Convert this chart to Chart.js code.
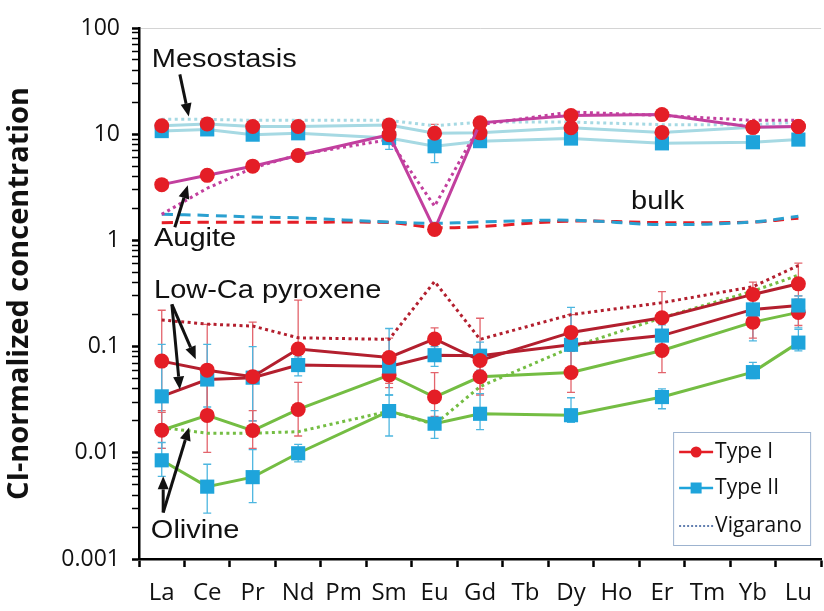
<!DOCTYPE html>
<html><head><meta charset="utf-8">
<script src="https://cdn.jsdelivr.net/npm/chart.js@4.4.1/dist/chart.umd.min.js"></script>
<style>html,body{margin:0;padding:0;background:#fff;}#wrap{width:824px;height:611px;}</style>
</head><body><div id="wrap"><canvas id="c" width="824" height="611"></canvas></div>
<script>
// ---- categories and tick labels ----
const elements = ['La','Ce','Pr','Nd','Pm','Sm','Eu','Gd','Tb','Dy','Ho','Er','Tm','Yb','Lu'];
const yTickLabels = ['0.001','0.01','0.1','1','10','100'];

// ---- series values (CI-normalized) ----
const mesoTypeI   = [12.0, 12.5, 11.8, 11.8, null, 12.2, 10.2, 10.3, null, 11.5, null, 10.4, null, 11.6, 11.8];
const mesoTypeII  = [10.7, 11.1, 9.9, 10.2, null, 9.2, 7.7, 8.6, null, 9.1, null, 8.2, null, 8.4, 8.9];
const mesoVig     = [13.8, 13.8, 13.5, 13.5, null, 13.5, 12.0, 13.0, null, 13.0, null, 12.3, null, 12.3, 13.0];
const augiteTypeI = [3.35, 4.1, 5.0, 6.3, null, 9.9, 1.27, 12.8, null, 15.0, null, 15.3, null, 11.6, 11.8];
const augiteVig   = [1.76, 3.1, 4.8, 6.4, null, 8.9, 2.1, 12.3, null, 16.2, null, 15.0, null, 13.5, 13.5];
const bulkTypeI   = [1.47, 1.48, 1.48, 1.48, null, 1.47, 1.32, 1.35, null, 1.52, null, 1.47, null, 1.49, 1.62];
const bulkTypeII  = [1.76, 1.72, 1.66, 1.63, null, 1.49, 1.45, 1.49, null, 1.55, null, 1.41, null, 1.49, 1.69];
const lcpxTypeI   = [0.073, 0.060, 0.052, 0.095, null, 0.079, 0.118, 0.074, null, 0.136, null, 0.187, null, 0.31, 0.39];
const lcpxTypeII  = [0.034, 0.049, 0.051, 0.067, null, 0.065, 0.083, 0.082, null, 0.104, null, 0.127, null, 0.224, 0.244];
const lcpxVig     = [0.178, 0.163, 0.156, 0.121, null, 0.117, 0.41, 0.117, null, 0.20, null, 0.259, null, 0.366, 0.58];
const olivTypeI   = [0.0163, 0.0225, 0.0162, 0.0256, null, 0.054, 0.0335, 0.052, null, 0.057, null, 0.092, null, 0.17, 0.21];
const olivTypeII  = [0.0085, 0.0048, 0.0059, 0.0099, null, 0.0247, 0.0188, 0.0233, null, 0.0226, null, 0.0335, null, 0.0575, 0.109];
const olivVig     = [0.0173, 0.0153, 0.0153, 0.0158, null, 0.0247, 0.0185, 0.042, null, 0.098, null, 0.187, null, 0.333, 0.47];

// ---- error ranges [low, high] ----
const mesoTypeIErr  = [null,null,null,null,null,null,[9.0,12.4],null,null,null,null,null,null,null,null];
const mesoTypeIIErr = [null,null,null,null,null,[7.2,10.0],[5.4,9.0],null,null,null,null,null,null,null,null];
const lcpxTypeIErr  = [[0.025,0.22],[0.022,0.162],[0.02,0.17],[0.075,0.274],null,[0.041,0.12],[0.085,0.15],[0.04,0.185],null,[0.09,0.2],null,[0.12,0.33],null,[0.22,0.405],[0.3,0.61]];
const lcpxTypeIIErr = [[0.011,0.105],[0.027,0.105],[0.02,0.1],[0.053,0.08],null,[0.035,0.148],[0.065,0.1],[0.06,0.11],null,[0.06,0.234],null,[0.1,0.16],null,[0.113,0.3],[0.15,0.3]];
const olivTypeIErr  = [[0.011,0.024],[0.0101,0.05],[0.011,0.025],[0.0144,0.046],null,[0.045,0.065],[0.022,0.057],[0.035,0.08],null,[0.037,0.09],null,[0.057,0.14],null,[0.12,0.22],[0.158,0.28]];
const olivTypeIIErr = [[0.006,0.0125],[0.0027,0.0078],[0.0034,0.0107],[0.0082,0.012],null,[0.0144,0.035],[0.0137,0.025],[0.0165,0.036],null,[0.0194,0.033],null,[0.026,0.04],null,[0.05,0.071],[0.091,0.145]];

// ---- annotations (category index, value) ----
const noteTexts = ['Mesostasis','Augite','bulk','Low-Ca pyroxene','Olivine'];
const noteIdx   = [-0.22, -0.17, 10.32, -0.17, -0.24];
const noteVal   = [50, 1.02, 2.28, 0.331, 0.00182];
const arrowFromIdx = [0.398, 0.288, 0.223, 0.223, 0.032, 0.032];
const arrowFromVal = [36.6, 1.33, 0.25, 0.25, 0.00274, 0.00274];
const arrowToIdx   = [0.595, 0.573, 0.748, 0.398, 0.601, 0.032];
const arrowToVal   = [14.7, 3.3, 0.076, 0.0394, 0.0173, 0.006];
const legendLabels = ['Type I','Type II','Vigarano'];

// ---- colours ----
const RED = '#E41E26', BLUE = '#1EA4DB', LBLUE = '#A6D9E3', MAG = '#C23F9E', DRED = '#B31F2E', GREEN = '#74BD43';
const ERR_RED = '#E3646C', ERR_BLUE = '#4DB6E0';
const FONT = '"Open Sans", "Liberation Sans", sans-serif';

const errorSets = [
  {ranges: mesoTypeIErr, color: ERR_RED}, {ranges: mesoTypeIIErr, color: ERR_BLUE},
  {ranges: lcpxTypeIErr, color: ERR_RED}, {ranges: lcpxTypeIIErr, color: ERR_BLUE},
  {ranges: olivTypeIErr, color: ERR_RED}, {ranges: olivTypeIIErr, color: ERR_BLUE}
];

function solid(data, lineColor, type) {
  const isI = type === 1;
  return {data, borderColor: lineColor, borderWidth: 3, spanGaps: true, tension: 0,
    pointStyle: isI ? 'circle' : 'rect', pointRadius: isI ? 7.5 : 10,
    pointBackgroundColor: isI ? RED : BLUE, pointBorderColor: isI ? RED : BLUE, pointBorderWidth: 0};
}
function dotted(data, color) {
  return {data, borderColor: color, borderWidth: 3, borderDash: [3, 3.5], spanGaps: true, tension: 0, pointRadius: 0};
}
function dashed(data, color) {
  return {data, borderColor: color, borderWidth: 3, borderDash: [11, 7], spanGaps: true, tension: 0.35, pointRadius: 0};
}

const errorBarPlugin = {
  id: 'errbars',
  beforeDatasetsDraw(chart) {
    const {ctx, scales: {x, y}} = chart;
    ctx.save();
    ctx.lineWidth = 1.3;
    errorSets.forEach(es => {
      ctx.strokeStyle = es.color;
      es.ranges.forEach((r, i) => {
        if (!r) return;
        const px = x.getPixelForValue(i);
        const y0 = y.getPixelForValue(r[0]), y1 = y.getPixelForValue(r[1]);
        ctx.beginPath();
        ctx.moveTo(px, y0); ctx.lineTo(px, y1);
        ctx.moveTo(px - 4, y0); ctx.lineTo(px + 4, y0);
        ctx.moveTo(px - 4, y1); ctx.lineTo(px + 4, y1);
        ctx.stroke();
      });
    });
    ctx.restore();
  }
};

function drawArrow(ctx, x0, y0, x1, y1) {
  const a = Math.atan2(y1 - y0, x1 - x0), L = 13, W = 5.5;
  const bx = x1 - L * Math.cos(a), by = y1 - L * Math.sin(a);
  ctx.beginPath(); ctx.moveTo(x0, y0); ctx.lineTo(bx, by); ctx.stroke();
  ctx.beginPath();
  ctx.moveTo(x1, y1);
  ctx.lineTo(bx + W * Math.sin(a), by - W * Math.cos(a));
  ctx.lineTo(bx - W * Math.sin(a), by + W * Math.cos(a));
  ctx.closePath(); ctx.fill();
}

const annotationPlugin = {
  id: 'notes',
  afterDatasetsDraw(chart) {
    const {ctx, scales: {x, y}, chartArea} = chart;
    ctx.save();
    ctx.fillStyle = '#111';
    ctx.font = '25px "Liberation Sans", Arial, sans-serif';
    ctx.textAlign = 'left'; ctx.textBaseline = 'middle';
    noteTexts.forEach((t, i) => {
      ctx.save();
      ctx.translate(x.getPixelForValue(noteIdx[i]), y.getPixelForValue(noteVal[i]));
      ctx.scale(1.16, 1);
      ctx.fillText(t, 0, 0);
      ctx.restore();
    });
    ctx.strokeStyle = '#111'; ctx.fillStyle = '#111'; ctx.lineWidth = 3;
    arrowFromIdx.forEach((_, i) => {
      drawArrow(ctx, x.getPixelForValue(arrowFromIdx[i]), y.getPixelForValue(arrowFromVal[i]),
                     x.getPixelForValue(arrowToIdx[i]), y.getPixelForValue(arrowToVal[i]));
    });
    const bw = 137, bh = 113;
    const bx = chartArea.right - 11 - bw, by = chartArea.bottom - 14 - bh;
    ctx.fillStyle = '#fff'; ctx.fillRect(bx, by, bw, bh);
    ctx.strokeStyle = '#9DB3CF'; ctx.lineWidth = 1; ctx.strokeRect(bx + 0.5, by + 0.5, bw, bh);
    const rows = [by + 20, by + 56, by + 94];
    const lx0 = bx + 6, lx1 = bx + 40;
    ctx.lineWidth = 2.5; ctx.setLineDash([]);
    ctx.strokeStyle = RED; ctx.beginPath(); ctx.moveTo(lx0, rows[0]); ctx.lineTo(lx1, rows[0]); ctx.stroke();
    ctx.fillStyle = RED; ctx.beginPath(); ctx.arc((lx0 + lx1) / 2, rows[0], 5.5, 0, Math.PI * 2); ctx.fill();
    ctx.strokeStyle = BLUE; ctx.beginPath(); ctx.moveTo(lx0, rows[1]); ctx.lineTo(lx1, rows[1]); ctx.stroke();
    ctx.fillStyle = BLUE; ctx.fillRect((lx0 + lx1) / 2 - 5.5, rows[1] - 5.5, 11, 11);
    ctx.strokeStyle = '#2F5597'; ctx.lineWidth = 1.5; ctx.setLineDash([2, 2]);
    ctx.beginPath(); ctx.moveTo(lx0, rows[2]); ctx.lineTo(lx1, rows[2]); ctx.stroke();
    ctx.setLineDash([]);
    ctx.fillStyle = '#111'; ctx.font = '21px ' + FONT; ctx.textBaseline = 'middle';
    legendLabels.forEach((t, i) => ctx.fillText(t, lx1 + 2, rows[i]));
    ctx.restore();
  }
};

const datasets = [
  solid(augiteTypeI, MAG, 1),
  solid(mesoTypeI, LBLUE, 1),
  solid(mesoTypeII, LBLUE, 2),
  solid(lcpxTypeI, DRED, 1),
  solid(lcpxTypeII, DRED, 2),
  solid(olivTypeI, GREEN, 1),
  solid(olivTypeII, GREEN, 2),
  dotted(augiteVig, MAG),
  dotted(mesoVig, LBLUE),
  dotted(lcpxVig, DRED),
  dotted(olivVig, GREEN),
  dashed(bulkTypeII, '#2BA0D0'),
  dashed(bulkTypeI, RED)
];

function isMajor(v) { const l = Math.log10(v); return Math.abs(l - Math.round(l)) < 1e-6; }

new Chart(document.getElementById('c'), {
  type: 'line',
  data: {labels: elements, datasets},
  plugins: [errorBarPlugin, annotationPlugin],
  options: {
    responsive: false, animation: false, devicePixelRatio: 1,
    layout: {autoPadding: false, padding: {left: 2, top: 28, right: 0, bottom: 0}},
    plugins: {legend: {display: false}, tooltip: {enabled: false}},
    scales: {
      x: {
        type: 'category', offset: true,
        grid: {offset: true, drawOnChartArea: false, tickLength: 8, tickColor: '#000', tickWidth: 2.5, color: '#000'},
        border: {display: true, color: '#000', width: 2.5},
        ticks: {color: '#111', font: {family: FONT, size: 24}, padding: 12, maxRotation: 0, autoSkip: false},
        afterFit(s) { s.height = 52; }
      },
      y: {
        type: 'logarithmic', min: 0.001, max: 100,
        afterBuildTicks(s) {
          const t = [];
          for (let d = -3; d <= 1; d++) for (let m = 1; m <= 9; m++) t.push({value: m * Math.pow(10, d)});
          t.push({value: 100});
          s.ticks = t;
        },
        grid: {drawOnChartArea: true, tickLength: 7, tickColor: '#000',
               color: (c) => (c.tick && Math.abs(c.tick.value - 100) < 1e-6) ? '#d4d4d4' : 'rgba(0,0,0,0)',
               tickWidth: (c) => (c.tick && isMajor(c.tick.value)) ? 2.5 : 1.5},
        border: {display: true, color: '#000', width: 2.5},
        ticks: {color: '#111', font: {family: FONT, size: 23}, padding: 12, autoSkip: false,
                callback: (v) => isMajor(v) ? yTickLabels[Math.round(Math.log10(v)) + 3] : ''},
        title: {display: true, text: 'CI-normalized concentration', color: '#111',
                font: {family: FONT, size: 29, weight: 'bold'}, padding: {top: 0, bottom: 0}},
        afterFit(s) { s.width = 137; }
      }
    }
  }
});
</script>
</body></html>
